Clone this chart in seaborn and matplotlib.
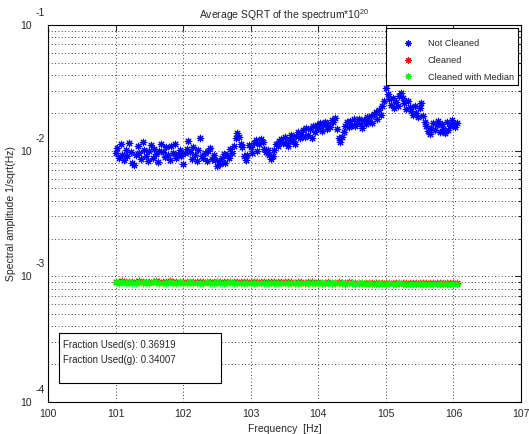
import numpy as np
import pandas as pd
import matplotlib
matplotlib.use("Agg")
import matplotlib.pyplot as plt
import seaborn as sns
from matplotlib.patches import Rectangle
from matplotlib.lines import Line2D

# ---------------- data ----------------
# Not Cleaned (units of 1e-3), frequencies 101.0 .. 106.05 step 0.025
not_cleaned_e3 = [
    9.6, 10.5, 8.8, 11.2, 9.2, 8.4, 10.1, 9.0, 11.5, 9.8,
    8.0, 7.7, 9.3, 10.8, 9.5, 8.6, 11.8, 10.2, 9.1, 8.3,
    9.9, 11.0, 8.7, 10.4, 9.4, 8.1, 10.0, 11.3, 9.7, 8.9,
    10.6, 9.2, 8.5, 10.9, 9.6, 11.4, 8.8, 9.4, 10.2, 9.0,
    7.9, 9.5, 10.3, 11.9, 9.8, 8.6, 10.7, 9.3, 8.2, 10.1,
    12.5, 9.0, 8.7, 9.6, 8.3, 9.9, 10.5, 8.6, 9.2, 8.4,
    7.6, 8.2, 7.9, 8.8, 9.4, 8.0, 9.2, 8.7, 10.3, 9.6,
    10.9, 12.6, 13.8, 12.9, 11.4, 10.7, 9.0, 8.4, 9.3, 11.0,
    10.6, 9.5, 11.6, 12.1, 10.0, 11.2, 12.4, 11.8, 10.4, 9.7,
    10.2, 9.3, 8.6, 9.0, 10.1, 11.3, 10.8, 11.9, 12.4, 11.5,
    12.8, 11.6, 10.9, 12.2, 13.4, 12.0, 11.4, 13.0, 14.1, 12.7,
    13.6, 14.5, 12.9, 15.1, 13.3, 14.8, 12.5, 15.6, 14.2, 16.0,
    15.2, 16.5, 14.4, 15.9, 17.0, 14.9, 16.3, 15.5, 17.6, 16.8,
    18.3, 15.0, 12.6, 11.8, 12.9, 14.0, 15.8, 16.9, 15.3, 17.2,
    16.1, 17.8, 15.6, 16.7, 18.0, 16.4, 15.2, 17.5, 16.2, 18.4,
    17.1, 18.9, 16.6, 19.5, 20.3, 17.9, 21.0, 19.2, 22.6, 24.8,
    31.5, 28.0, 25.6, 23.0, 26.4, 21.9, 24.2, 22.5, 27.3, 29.0,
    26.2, 23.8, 21.4, 24.9, 22.1, 20.5, 19.3, 22.8, 20.0, 18.6,
    21.7, 24.1, 19.0, 17.0, 15.6, 14.3, 13.6, 15.1, 16.5, 14.7,
    15.9, 17.3, 14.0, 16.2, 15.0, 13.8, 16.8, 14.5, 15.7, 17.4,
    16.0, 15.4, 16.6,
]
freq_blue = np.round(101.0 + 0.025 * np.arange(len(not_cleaned_e3)), 3)

# Cleaned / Cleaned with Median (units of 1e-4), frequencies 101.0 .. 106.05 step 0.05
cleaned_e4 = [
    9.08, 9.02, 9.12, 8.98, 9.06, 9.04, 9.00, 9.14, 9.02, 9.08,
    9.00, 9.06, 9.12, 9.01, 9.05, 8.98, 9.10, 9.03, 9.00, 9.07,
    9.02, 8.96, 9.09, 9.04, 8.99, 9.05, 9.01, 9.08, 8.97, 9.03,
    9.06, 9.00, 9.02, 8.98, 9.07, 8.95, 9.04, 9.01, 8.99, 9.05,
    8.97, 9.02, 9.00, 8.96, 9.03, 8.98, 9.01, 8.94, 9.02, 8.99,
    8.95, 9.00, 8.97, 8.93, 9.01, 8.96, 8.92, 8.98, 8.95, 8.91,
    8.97, 8.93, 8.90, 8.96, 8.92, 8.89, 8.95, 8.91, 8.88, 8.94,
    8.90, 8.87, 8.93, 8.89, 8.86, 8.92, 8.88, 8.85, 8.91, 8.87,
    8.84, 8.90, 8.86, 8.83, 8.89, 8.85, 8.82, 8.88, 8.84, 8.81,
    8.87, 8.83, 8.80, 8.86, 8.82, 8.79, 8.85, 8.81, 8.78, 8.84,
    8.80, 8.82,
]
median_e4 = [
    8.95, 8.90, 9.00, 8.85, 8.95, 8.92, 8.88, 9.02, 8.90, 8.96,
    8.87, 8.94, 9.00, 8.89, 8.93, 8.86, 8.98, 8.91, 8.88, 8.95,
    8.90, 8.84, 8.97, 8.92, 8.87, 8.93, 8.89, 8.96, 8.85, 8.91,
    8.94, 8.88, 8.90, 8.86, 8.95, 8.83, 8.92, 8.89, 8.87, 8.93,
    8.85, 8.90, 8.88, 8.84, 8.91, 8.86, 8.89, 8.82, 8.90, 8.87,
    8.83, 8.88, 8.85, 8.81, 8.89, 8.84, 8.80, 8.86, 8.83, 8.79,
    8.85, 8.81, 8.78, 8.84, 8.80, 8.77, 8.83, 8.79, 8.76, 8.82,
    8.78, 8.75, 8.81, 8.77, 8.74, 8.80, 8.76, 8.73, 8.79, 8.75,
    8.72, 8.78, 8.74, 8.71, 8.77, 8.73, 8.70, 8.76, 8.72, 8.69,
    8.75, 8.71, 8.68, 8.74, 8.70, 8.67, 8.73, 8.69, 8.66, 8.72,
    8.68, 8.70,
]
freq_rg = np.round(101.0 + 0.05 * np.arange(len(median_e4)), 3)

series_labels = ["Not Cleaned", "Cleaned", "Cleaned with Median"]
series_colors = ["#0000ff", "#ff0000", "#00ff00"]
x_ticks = [100, 101, 102, 103, 104, 105, 106, 107]
y_ticks = [1e-4, 1e-3, 1e-2, 1e-1]
y_exps = ["-4", "-3", "-2", "-1"]
fraction_lines = ["Fraction Used(s): 0.36919", "Fraction Used(g): 0.34007"]

df_blue = pd.DataFrame({"f": freq_blue, "v": np.array(not_cleaned_e3) * 1e-3})
df_red = pd.DataFrame({"f": freq_rg, "v": np.array(cleaned_e4) * 1e-4})
df_green = pd.DataFrame({"f": freq_rg, "v": np.array(median_e4) * 1e-4})

# ---------------- plot ----------------
sns.set_style("white")
plt.rcParams["font.family"] = ["Liberation Sans", "DejaVu Sans"]
plt.rcParams["mathtext.fontset"] = "custom"
plt.rcParams["mathtext.rm"] = "Liberation Sans"
fig = plt.figure(figsize=(5.29, 4.34), dpi=100)
ax = fig.add_axes([48 / 529, 1 - 402 / 434, 473 / 529, 377 / 434])

star = (8, 2, 0)
kw = dict(marker=star, s=22, linewidth=0.8, ax=ax, legend=False)
sns.scatterplot(data=df_blue, x="f", y="v", color=series_colors[0], edgecolor=series_colors[0], **kw)
sns.scatterplot(data=df_red, x="f", y="v", color=series_colors[1], edgecolor=series_colors[1], **kw)
sns.scatterplot(data=df_green, x="f", y="v", color=series_colors[2], edgecolor=series_colors[2], **kw)

ax.set_yscale("log")
ax.set_xlim(100, 107)
ax.set_ylim(1e-4, 1e-1)
ax.set_xticks(x_ticks)
ax.set_xticklabels([str(t) for t in x_ticks], fontsize=7.5)
ax.set_yticks(y_ticks)
ax.set_yticklabels(["10"] * len(y_ticks), fontsize=7.5)
ax.tick_params(axis="y", which="major", pad=12)
ax.tick_params(axis="x", which="major", pad=5)
ax.tick_params(which="both", direction="in", top=True, right=True, length=4, width=0.8)
ax.tick_params(which="minor", length=2)
for val, e in zip(y_ticks, y_exps):
    ax.annotate(e, xy=(0, val), xycoords=("axes fraction", "data"),
                xytext=(-8, 12), textcoords="offset pixels",
                fontsize=7.5, ha="center", va="center", annotation_clip=False)

ax.grid(True, which="major", axis="x", linestyle=(0, (1, 3)), color="black", linewidth=0.6)
ax.grid(True, which="both", axis="y", linestyle=(0, (1, 3)), color="black", linewidth=0.6)
for s in ax.spines.values():
    s.set_color("black")
    s.set_linewidth(0.8)

ax.set_xlabel("Frequency  [Hz]", fontsize=7.5, labelpad=4)
ax.set_ylabel("Spectral amplitude 1/sqrt(Hz)", fontsize=7.5, labelpad=3)
ax.set_title("Average SQRT of the spectrum*10$^{20}$", fontsize=7.5, pad=4)

# legend: frame drawn separately, entries via ax.legend without frame
ax.add_patch(Rectangle((0.7146, 0.8408), 0.2791, 0.1512, transform=ax.transAxes,
                       facecolor="white", edgecolor="black", linewidth=0.8, zorder=6))
handles = [Line2D([], [], linestyle="none", marker=star, markersize=4.5,
                  markeredgewidth=0.8, color=c) for c in series_colors]
leg = ax.legend(handles, series_labels, loc="upper left",
                bbox_to_anchor=(0.738, 0.963), fontsize=6.6,
                frameon=False, borderpad=0.0, labelspacing=0.85,
                handletextpad=1.05, handlelength=2.3, borderaxespad=0.0)
leg.set_zorder(7)

# fraction text box
ax.add_patch(Rectangle((0.0233, 0.0504), 0.343, 0.133, transform=ax.transAxes,
                       fill=True, facecolor="white", edgecolor="black", linewidth=0.8, zorder=5))
ax.text(0.032, 0.151, fraction_lines[0], transform=ax.transAxes, fontsize=7,
        va="center", ha="left", zorder=6)
ax.text(0.032, 0.111, fraction_lines[1], transform=ax.transAxes, fontsize=7,
        va="center", ha="left", zorder=6)

fig.savefig("out.png", dpi=100)
